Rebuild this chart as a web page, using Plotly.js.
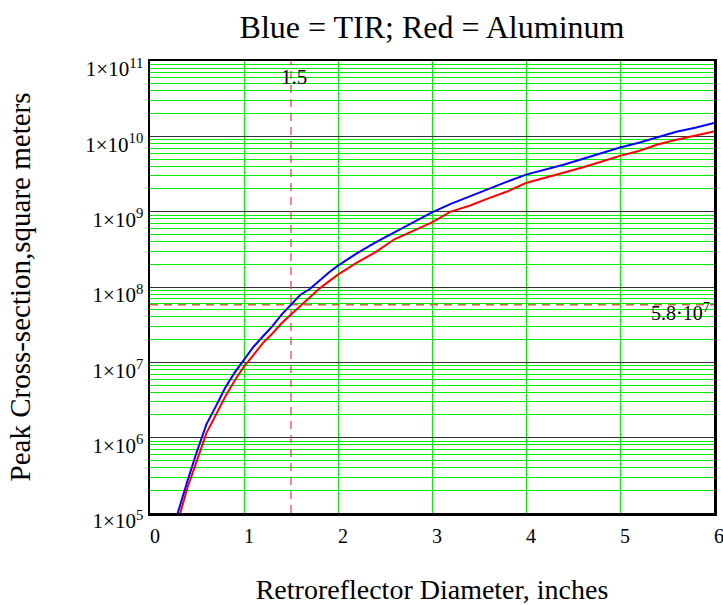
<!DOCTYPE html>
<html>
<head>
<meta charset="utf-8">
<script src="https://cdn.plot.ly/plotly-3.0.1.min.js"></script>
<style>html,body{margin:0;padding:0;background:#fff;}#chart{width:723px;height:605px;}</style>
</head>
<body>
<div id="chart"></div>
<script>
// Retroreflector diameter, inches
const diameter = [0.25,0.3,0.4,0.5,0.6,0.7,0.8,0.9,1.0,1.1,1.2,1.3,1.4,1.5,1.6,1.7,1.8,1.9,2.0,2.2,2.4,2.6,2.8,3.0,3.2,3.4,3.6,3.8,4.0,4.2,4.4,4.6,4.8,5.0,5.2,5.4,5.6,5.8,6.0];
// Blue = TIR peak cross-section, m^2
const tir = [6.5e4,1.05e5,2.7e5,6.6e5,1.5e6,2.6e6,4.6e6,7.3e6,1.08e7,1.6e7,2.2e7,3.0e7,4.3e7,5.8e7,7.9e7,9.4e7,1.22e8,1.55e8,1.92e8,2.8e8,3.9e8,5.3e8,7.2e8,9.8e8,1.27e9,1.6e9,2.0e9,2.5e9,3.1e9,3.6e9,4.2e9,5.0e9,6.0e9,7.1e9,8.2e9,9.8e9,1.15e10,1.3e10,1.5e10];
// Red = Aluminum peak cross-section, m^2
const aluminum = [4.8e4,8.0e4,2.2e5,5.0e5,1.15e6,2.0e6,3.5e6,5.7e6,8.8e6,1.25e7,1.8e7,2.4e7,3.3e7,4.3e7,5.6e7,7.2e7,9.5e7,1.18e8,1.46e8,2.1e8,2.9e8,4.3e8,5.6e8,7.2e8,1.0e9,1.2e9,1.5e9,1.85e9,2.4e9,2.8e9,3.3e9,3.85e9,4.6e9,5.5e9,6.4e9,7.8e9,9.0e9,1.02e10,1.16e10];
// marker lines
const markX = 1.5;
const markY = 5.8e7;
const xRange = [0, 6];
const yRange = [1e5, 1e11];
// tick labels
const xTicks = [0,1,2,3,4,5,6];
const yTickVals = [1e5,1e6,1e7,1e8,1e9,1e10,1e11];
const yTickText = ["1×10<sup>5</sup>","1×10<sup>6</sup>","1×10<sup>7</sup>","1×10<sup>8</sup>","1×10<sup>9</sup>","1×10<sup>10</sup>","1×10<sup>11</sup>"];

const serif = "Liberation Serif, Times New Roman, serif";

const traces = [
  {x:[xRange[0], xRange[1]], y:[markY, markY], mode:'lines', line:{color:'#c8643c', width:1.5, dash:'8px,6px'}, hoverinfo:'skip'},
  {x:[markX, markX], y:[yRange[0], yRange[1]], mode:'lines', line:{color:'#e03c3c', width:1.2, dash:'8px,6px'}, hoverinfo:'skip'},
  {x:diameter, y:aluminum, mode:'lines', line:{color:'#ff0000', width:2}, name:'Aluminum'},
  {x:diameter, y:tir, mode:'lines', line:{color:'#0000ff', width:2}, name:'TIR'}
];

const layout = {
  width:723, height:605,
  margin:{l:150, r:9, t:61, b:92},
  paper_bgcolor:'#ffffff', plot_bgcolor:'#ffffff',
  showlegend:false,
  font:{family:serif, color:'#000', size:21},
  title:{text:'Blue = TIR; Red = Aluminum', font:{family:serif, size:32, color:'#000'}, x:0.5, xref:'paper', xanchor:'center', y:0.955, yref:'container', yanchor:'middle'},
  xaxis:{
    range:xRange, tickmode:'array', tickvals:xTicks, ticktext:xTicks.map(String),
    showgrid:true, gridcolor:'#00ee00', gridwidth:1, zeroline:false,
    showline:true, linecolor:'#000', linewidth:2.5, mirror:true,
    ticks:'', ticklabelshift:5, ticklabelstandoff:3, ticklabeloverflow:'allow',
    tickfont:{family:serif, size:20, color:'#000'},
    title:{text:'Retroreflector Diameter, inches', font:{family:serif, size:28, color:'#000'}, standoff:34},
    automargin:false
  },
  yaxis:{
    type:'log', range:[Math.log10(yRange[0]), Math.log10(yRange[1])],
    tickmode:'array', tickvals:yTickVals, ticktext:yTickText,
    showgrid:true, gridcolor:'#333333', gridwidth:1, zeroline:false,
    minor:{dtick:'D1', showgrid:true, gridcolor:'#00ee00', gridwidth:1, ticks:''},
    showline:true, linecolor:'#000', linewidth:2.5, mirror:true,
    ticks:'', ticklabelshift:8, ticklabelstandoff:0, ticklabeloverflow:'allow',
    tickfont:{family:serif, size:21, color:'#000'},
    title:{text:'Peak Cross-section,square meters', font:{family:serif, size:29, color:'#000'}, standoff:46},
    automargin:false
  },
  annotations:[
    {x:markX, xref:'x', y:0.965, yref:'paper', text:'1.5', showarrow:false, xanchor:'center', yanchor:'middle', xshift:3, font:{family:serif, size:21, color:'#000'}},
    {x:1, xref:'paper', y:0.445, yref:'paper', text:'5.8·10<sup>7</sup>', showarrow:false, xanchor:'right', yanchor:'middle', xshift:-2, font:{family:serif, size:20, color:'#000'}}
  ]
};

Plotly.newPlot('chart', traces, layout, {displayModeBar:false, staticPlot:true});
</script>
</body>
</html>
